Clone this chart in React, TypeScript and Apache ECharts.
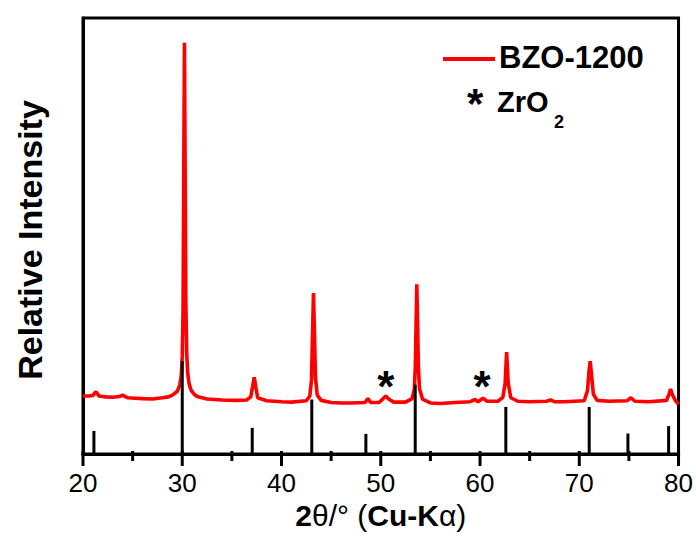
import React, { useEffect, useRef } from "react";
import * as echarts from "echarts";

// XRD pattern of BZO-1200: [2theta, relative intensity]
const bzoPattern: [number, number][] = [
  [20.0, 13.3], [20.6, 13.3], [21.0, 13.4], [21.15, 13.9], [21.3, 14.3], [21.45, 13.8], [21.6, 13.3],
  [22.3, 13.1], [23.0, 13.0], [23.7, 13.2], [24.0, 13.5], [24.3, 13.1], [24.5, 12.9], [25.3, 12.8],
  [26.0, 12.7], [27.0, 12.6], [28.0, 12.9], [28.6, 13.1], [29.0, 13.5], [29.5, 14.4], [29.75, 15.8],
  [29.9, 18.0], [30.0, 22.5], [30.08, 33], [30.14, 60], [30.22, 94.3], [30.3, 62], [30.36, 35],
  [30.45, 23], [30.55, 18.5], [30.7, 16.0], [30.9, 14.6], [31.2, 13.7], [31.5, 13.2], [32.5, 12.6],
  [33.3, 12.5], [34.0, 12.4], [35.5, 12.3], [36.5, 12.4], [36.9, 13.1], [37.08, 15.4], [37.25, 17.6],
  [37.42, 15.2], [37.6, 12.9], [38.5, 12.2], [39.3, 12.1], [40.0, 12.0], [41.0, 11.9], [42.5, 12.2],
  [42.85, 13.3], [43.02, 17], [43.12, 27], [43.22, 36.9], [43.32, 28], [43.42, 17.5], [43.6, 13.5],
  [44.0, 12.3], [45.0, 11.8], [46.0, 11.7], [47.0, 11.7], [48.4, 11.8], [48.7, 12.7], [49.0, 11.8],
  [49.8, 11.8], [50.2, 12.6], [50.5, 13.3], [50.8, 12.6], [51.3, 11.9], [52.5, 11.9], [53.15, 12.7],
  [53.38, 14.8], [53.48, 20], [53.56, 30], [53.63, 38.9], [53.71, 30], [53.79, 20], [53.9, 15],
  [54.2, 12.6], [55.0, 11.7], [56.0, 11.6], [57.5, 11.8], [59.0, 12.0], [59.5, 12.5], [59.8, 12.0],
  [60.3, 12.8], [60.7, 12.1], [61.8, 12.1], [62.3, 13.0], [62.53, 16.2], [62.68, 23.4], [62.84, 16.2],
  [63.1, 12.9], [63.8, 12.1], [65.0, 12.0], [66.7, 12.1], [67.1, 12.4], [67.5, 12.0], [68.5, 12.0],
  [70.5, 12.2], [70.83, 14.6], [70.98, 19.0], [71.1, 21.3], [71.24, 18.0], [71.42, 13.7], [71.8, 12.3],
  [73.0, 12.1], [74.8, 12.2], [75.2, 12.9], [75.6, 12.1], [77.0, 12.0], [78.8, 12.3], [79.05, 13.8],
  [79.2, 14.9], [79.4, 13.5], [79.7, 12.2], [80.0, 11.4],
];

// Standard reference lines (BaZrO3): [2theta, relative intensity]
const standardSticks: [number, number][] = [
  [21.1, 5.3], [30.0, 21.3], [37.05, 6.0], [43.05, 12.5], [48.5, 4.6],
  [53.47, 15.9], [62.6, 10.8], [71.0, 10.8], [74.9, 4.7], [79.0, 6.4],
];

// ZrO2 impurity markers
const zro2Marks: [number, number][] = [
  [50.5, 16.9], [60.2, 16.9],
];

const xMajor = { min: 20, max: 80, interval: 10 };
const xMajorTicks: number[] = [20, 30, 40, 50, 60, 70, 80];
const xMinorTicks: number[] = [25, 35, 45, 55, 65, 75];

export default function App() {
  const ref = useRef<HTMLDivElement>(null);
  useEffect(() => {
    if (!ref.current) return;
    const chart = echarts.init(ref.current, null, { renderer: "svg" });
    const font = "Liberation Sans, Arial, sans-serif";
    const tickData = [
      ...xMajorTicks.map((v) => [v, 12]),
      ...xMinorTicks.map((v) => [v, 7]),
    ];
    chart.setOption({
      animation: false,
      backgroundColor: "#ffffff",
      grid: {
        left: 83, right: 14, top: 18, bottom: 83,
        show: true, borderColor: "#000", borderWidth: 3,
      },
      xAxis: {
        type: "value",
        min: xMajor.min, max: xMajor.max, interval: xMajor.interval,
        axisLine: { show: true, lineStyle: { color: "#000", width: 3 } },
        axisTick: { show: false },
        splitLine: { show: false },
        axisLabel: { color: "#000", fontSize: 26, fontFamily: font, margin: 16 },
        name: "{b|2}{r|θ/° (}{b|Cu-K}{r|α)}",
        nameLocation: "middle",
        nameGap: 46,
        nameTextStyle: {
          rich: {
            b: { fontSize: 30, fontWeight: "bold", fontFamily: font, color: "#000" },
            r: { fontSize: 30, fontWeight: "normal", fontFamily: font, color: "#000" },
          },
        },
      },
      yAxis: {
        type: "value",
        min: 0, max: 100,
        axisLine: { show: true, lineStyle: { color: "#000", width: 3 } },
        axisTick: { show: false },
        axisLabel: { show: false },
        splitLine: { show: false },
      },
      series: [
        {
          name: "BZO-1200",
          type: "line",
          data: bzoPattern,
          symbol: "none",
          lineStyle: { color: "#ff0000", width: 3.6 },
          z: 2,
        },
        {
          name: "Standard",
          type: "bar",
          data: standardSticks,
          barWidth: 3,
          itemStyle: { color: "#000" },
          z: 3,
        },
        {
          name: "ZrO2",
          type: "scatter",
          data: zro2Marks,
          symbol: "circle",
          symbolSize: 0.5,
          itemStyle: { color: "#000", opacity: 1 },
          label: {
            show: true, position: "inside", formatter: "*",
            fontSize: 44, fontWeight: "bold", fontFamily: font, color: "#000",
            textBorderWidth: 0, opacity: 1,
            offset: [0, 6],
          },
          z: 4,
        },
        {
          name: "ticks",
          type: "custom",
          clip: false,
          data: tickData,
          renderItem: (_p: any, api: any) => {
            const p = api.coord([api.value(0), 0]);
            const len = api.value(1);
            return {
              type: "rect",
              shape: { x: p[0] - 1.5, y: p[1] - 3, width: 3, height: len + 3 },
              style: { fill: "#000" },
            };
          },
        },
      ],
      graphic: [
        { type: "line", shape: { x1: 443, y1: 59, x2: 495, y2: 59 }, style: { stroke: "#ff0000", lineWidth: 4 } },
        {
          type: "text", x: 499, y: 57,
          style: { text: "BZO-1200", font: `bold 31px ${font}`, fill: "#000", textVerticalAlign: "middle" },
        },
        {
          type: "text", x: 467, y: 103,
          style: { text: "*", font: `bold 42px ${font}`, fill: "#000", textVerticalAlign: "middle" },
        },
        {
          type: "text", x: 497, y: 102,
          style: { text: "ZrO", font: `bold 29px ${font}`, fill: "#000", textVerticalAlign: "middle" },
        },
        {
          type: "text", x: 554, y: 122,
          style: { text: "2", font: `bold 18px ${font}`, fill: "#000", textVerticalAlign: "middle" },
        },
        {
          type: "text", x: 30, y: 240, rotation: Math.PI / 2,
          style: {
            text: "Relative Intensity", font: `bold 34px ${font}`, fill: "#000",
            textAlign: "center", textVerticalAlign: "middle",
          },
        },
      ],
    });
    return () => chart.dispose();
  }, []);
  return <div ref={ref} style={{ width: 696, height: 537, position: "absolute", left: 0, top: 0 }} />;
}
